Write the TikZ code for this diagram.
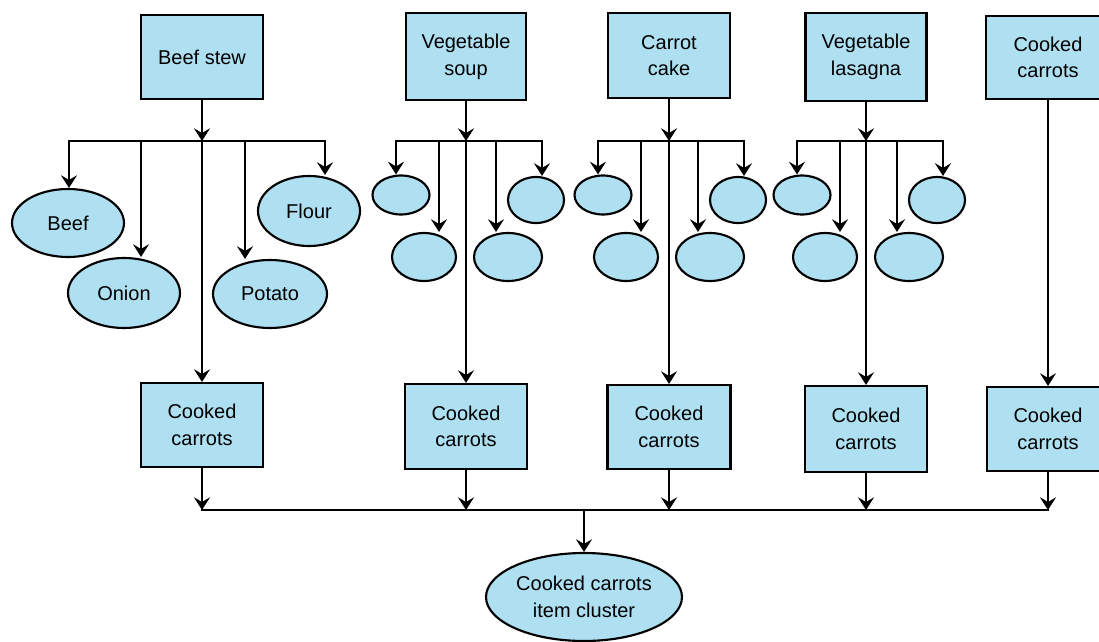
\documentclass[tikz,border=0pt]{standalone}
\usepackage{fontspec}
\setmainfont{Liberation Sans}
\usetikzlibrary{arrows.meta,shapes.geometric}
\definecolor{cfill}{RGB}{174,224,242}
\begin{document}
\begin{tikzpicture}[x=0.75pt,y=-0.75pt,
  box/.style={draw, fill=cfill, line width=1.6pt, inner sep=0pt, align=center,
    minimum width=91.5pt, minimum height=63pt, font=\fontsize{15}{20}\selectfont},
  oval/.style={draw, fill=cfill, ellipse, line width=1.6pt, inner sep=0pt, align=center,
    font=\fontsize{15}{20}\selectfont},
  tip/.tip={Stealth[length=9.5pt,width=12pt,inset=3.5pt]},
  arr/.style={line width=1.5pt, -tip},
  thru/.style={line width=1.1pt, -tip},
  ln/.style={line width=1.5pt, line cap=rect}
]
\useasboundingbox (0,0) rectangle (1099,642);

% top boxes
\node[box] (ts1) at (202,57) {Beef stew};
\node[box, minimum width=90pt, minimum height=65.25pt] (ts2) at (466,56.5) {Vegetable\\soup};
\node[box, minimum height=63.75pt] (ts3) at (669,55.5) {Carrot\\cake};
\node[box, minimum width=90.75pt, minimum height=66pt] (ts4) at (866,57) {Vegetable\\lasagna};
\node[box, minimum width=93pt, minimum height=62.25pt] (ts5) at (1048,57.5) {Cooked\\carrots};

% bottom boxes
\node[box] (b1) at (202,425) {Cooked\\carrots};
\node[box, minimum height=63.75pt] (b2) at (466,426.5) {Cooked\\carrots};
\node[box, minimum width=92.25pt] (b3) at (669,427) {Cooked\\carrots};
\node[box, minimum height=64.5pt] (b4) at (866,429) {Cooked\\carrots};
\node[box] (b5) at (1048,429) {Cooked\\carrots};

% final cluster
\node[oval, minimum width=147pt, minimum height=66pt] (fin) at (584,597) {Cooked carrots\\item cluster};

% Beef stew ingredients
\node[oval, minimum width=84pt, minimum height=51pt] (beef) at (68,223) {Beef};
\node[oval, minimum width=84pt, minimum height=52.5pt] (onion) at (124,293) {Onion};
\node[oval, minimum width=85.5pt, minimum height=51pt] (potato) at (270,294) {Potato};
\node[oval, minimum width=76.5pt, minimum height=52.5pt] (flour) at (309,211) {Flour};

\coordinate (a1) at (69,141);
\coordinate (a2) at (141,141);
\coordinate (aj) at (202,141);
\coordinate (a4) at (245,141);
\coordinate (a5) at (325,141);
\draw[ln] (a1) -- (a5);
\draw[arr] (ts1.south) -- (aj);
\draw[thru] (aj) -- (b1.north);
\draw[arr] (a1) -- (a1 |- beef.north);
\draw[arr] (a2) -- (a2 |- onion.north);
\draw[arr] (a4) -- (a4 |- potato.north);
\draw[arr] (a5) -- (a5 |- flour.north);

% three similar groups
\foreach \g/\o/\t/\b in {s/0/ts2/b2, c/202/ts3/b3, l/401/ts4/b4}{
  \node[oval, minimum width=42.75pt, minimum height=29.25pt] (\g e1) at (401+\o,195) {};
  \node[oval, minimum width=48pt, minimum height=36pt] (\g e2) at (424+\o,257) {};
  \node[oval, minimum width=51pt, minimum height=36pt] (\g e3) at (508+\o,257) {};
  \node[oval, minimum width=42pt, minimum height=34.5pt] (\g e4) at (536+\o,200) {};
  \coordinate (\g d1) at (396+\o,141);
  \coordinate (\g d2) at (439+\o,141);
  \coordinate (\g d3) at (496+\o,141);
  \coordinate (\g d4) at (542+\o,141);
  \coordinate (\g j) at (\t.south |- \g d1);
  \draw[ln] (\g d1) -- (\g d4);
  \draw[arr] (\t.south) -- (\g j);
  \draw[thru] (\g j) -- (\b.north);
  \draw[arr] (\g d1) -- (\g d1 |- \g e1.north);
  \draw[arr] (\g d2) -- (\g d2 |- \g e2.north);
  \draw[arr] (\g d3) -- (\g d3 |- \g e3.north);
  \draw[arr] (\g d4) -- (\g d4 |- \g e4.north);
}

% right column
\draw[thru] (ts5.south) -- (b5.north);

% bottom collector
\coordinate (k1) at (202,510);
\coordinate (kc) at (584,510);
\draw[ln] (b1.south |- k1) -- (b5.south |- k1);
\foreach \n in {b1,b2,b3,b4,b5}{
  \draw[arr] (\n.south) -- (\n.south |- k1);
}
\draw[arr] (kc) -- (fin.north);
\end{tikzpicture}
\end{document}
